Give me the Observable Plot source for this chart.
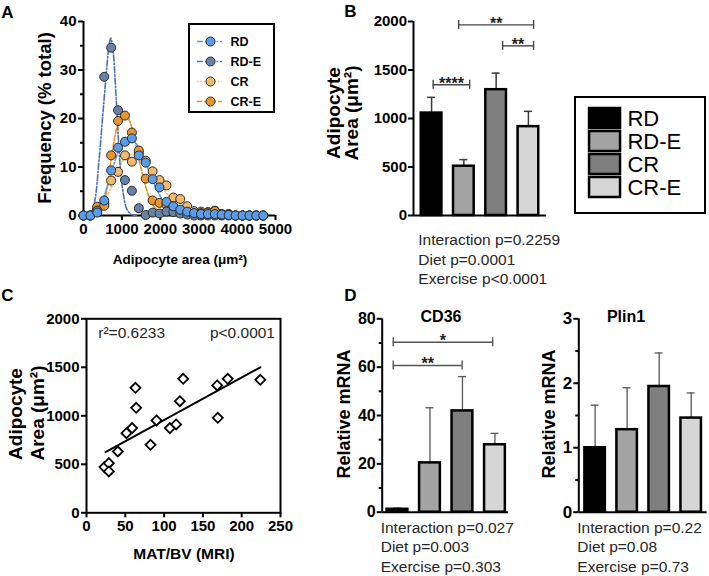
<!DOCTYPE html>
<html>
<head>
<meta charset="utf-8">
<script src="https://cdn.jsdelivr.net/npm/d3@7"></script>
<script src="https://cdn.jsdelivr.net/npm/@observablehq/plot@0.6"></script>
<style>
html,body{margin:0;padding:0;background:#fff;}
#fig{position:relative;width:709px;height:576px;overflow:hidden;background:#fff;font-family:"Liberation Sans",Arial,Helvetica,sans-serif;color:#000;}
.panel{position:absolute;}
.panel svg{display:block;}
</style>
</head>
<body>
<div id="fig"></div>
<script>
// ---------------- DATA ----------------
// Panel A: frequency distribution
const groups = ["RD", "RD-E", "CR", "CR-E"];
const binArea = [0,180,360,540,720,900,1080,1260,1440,1620,1800,1980,2160,2340,2520,2700,2880,3060,3240,3420,3600,3780,3960,4140,4320,4500,4680];
const freqRD  = [0,0,0.6,3.1,9.3,14.0,15.2,15.9,12.4,10.9,7.5,5.8,2.8,1.9,1.2,0.8,0.5,0.3,0.3,0.3,0.2,0.1,0,0,0,0,0];
const freqRDE = [0,0,1.0,28.6,34.6,21.7,7.3,5.1,1.5,0.1,0.6,0.4,0.8,0.7,0.4,0.2,0,0,0,0,0,0,0,0,0,0,0];
const freqCR  = [0,0,1.5,2.4,7.2,9.0,12.4,11.1,13.0,11.3,9.1,7.3,6.2,3.7,3.4,1.9,0.9,0.8,0.7,1.0,0.3,0.3,0,0,0,0,0];
const freqCRE = [0,0,1.8,2.0,12.4,19.5,20.6,17.1,13.4,7.6,3.1,2.6,2.2,1.2,0.8,0.6,0.5,0.5,0.6,0.9,0.2,0.2,0,0,0,0,0];
// fitted curves
const fitRD_x  = [300,450,600,750,900,1050,1200,1350,1500,1650,1800,1950,2100,2250,2400,2600];
const fitRD_y  = [0.3,2,5.5,9.5,13,15.2,15.8,15,13,10.2,7.3,4.7,2.7,1.4,0.6,0.2];
const fitRDE_x = [200,300,400,500,580,650,710,770,830,880,930,980,1050,1130,1250,1400];
const fitRDE_y = [0.2,3.2,11,20.5,28,34,36.6,34,27,20,13,8,3.8,1.3,0.2,0];
const fitCR_x  = [300,500,700,900,1100,1300,1500,1700,1900,2100,2300,2500,2700,2900,3100];
const fitCR_y  = [0.3,2,5.5,9.5,12,12.6,11.8,10,7.6,5.3,3.3,1.9,1,0.4,0.2];
const fitCRE_x = [350,500,600,700,800,900,1000,1100,1200,1300,1400,1500,1600,1700,1800,1950,2100];
const fitCRE_y = [0.3,1.7,5,10.5,15.5,19,20.7,20.8,19.5,16.8,13.2,9.7,6.5,4,2.3,0.9,0.3];
const areaTicks = [0,1000,2000,3000,4000,5000];
const freqTicks = [0,10,20,30,40];
const freqMinor = [5,15,25,35];

// Panel B: adipocyte area bars
const areaMean = [1056, 508, 1297, 916];
const areaSEM  = [162, 68, 171, 158];
const areaBarTicks = [0,500,1000,1500,2000];
const sigB = [
  {x1: 0.05, x2: 1.18, y: 1348, label: "****"},
  {x1: 0.84, x2: 3.16, y: 1965, label: "**"},
  {x1: 2.20, x2: 3.16, y: 1749, label: "**"}
];

// Panel C: scatter
const matbv    = [23.2,28.8,28.8,40.4,51.5,58.8,63.1,64.0,82.5,90.2,107.4,115.5,120.3,124.6,168.4,169.2,182.0,224.0];
const adipArea = [471,512,426,632,821,873,1289,1082,701,952,873,911,1151,1381,1313,979,1381,1371];
const regX = [24.5, 224];
const regY = [625, 1500];
const matTicks = [0,50,100,150,200,250];

// Panel D: mRNA
const cd36Mean = [1.2, 20.4, 41.9, 27.9];
const cd36Err  = [0.5, 22.8, 14.2, 4.7];
const cd36Ticks = [0,20,40,60,80];
const cd36Minor = [10,30,50,70];
const sigCD36 = [
  {x1: -0.13, x2: 2.93, y: 70.3, label: "*"},
  {x1: -0.13, x2: 1.99, y: 60.7, label: "**"}
];
const plinMean = [1.00, 1.28, 1.95, 1.46];
const plinErr  = [0.66, 0.65, 0.52, 0.39];
const plinTicks = [0,1,2,3];
const plinMinor = [0.5,1.5,2.5];

// ---------------- STYLE ----------------
const FONT = '"Liberation Sans", Arial, Helvetica, sans-serif';
const dotColors = ["#5B9CE9", "#6783A8", "#F4BA6C", "#EA962F"];
const fitColors = ["#5E9AE0", "#4A72AE", "#F2BF78", "#E8912A"];
const fitDash   = ["6,2,1.5,2", "6,2,1.5,2", "1.5,2", "5,2"];
const barFills  = ["#000000", "#A3A3A3", "#7F7F7F", "#D6D6D6"];

const fig = document.getElementById("fig");
function mount(node, left, top, extra) {
  const w = document.createElement("div");
  w.className = "panel";
  w.style.left = left + "px";
  w.style.top = top + "px";
  if (extra) Object.assign(w.style, extra);
  w.appendChild(node);
  fig.appendChild(w);
}
function addText(txt, x, y, o = {}) {
  const d = document.createElement("div");
  d.textContent = txt;
  const s = d.style;
  s.position = "absolute"; s.left = x + "px"; s.top = y + "px";
  s.whiteSpace = "nowrap"; s.lineHeight = "1";
  s.fontSize = (o.size || 15) + "px";
  s.fontWeight = o.weight || "normal";
  s.color = o.color || "#000";
  const ax = o.anchor === "start" ? "0" : o.anchor === "end" ? "-100%" : "-50%";
  s.transform = `translate(${ax},-50%)` + (o.rotate ? ` rotate(${o.rotate}deg)` : "");
  fig.appendChild(d);
}
const plotStyle = (size) => ({fontFamily: FONT, fontSize: size + "px", fontWeight: "bold", color: "#000", background: "transparent", overflow: "visible", maxWidth: "none"});
const fmt = d => String(d);

// ---------------- PANEL A ----------------
const freqs = [freqRD, freqRDE, freqCR, freqCRE];
const fitsX = [fitRD_x, fitRDE_x, fitCR_x, fitCRE_x];
const fitsY = [fitRD_y, fitRDE_y, fitCR_y, fitCRE_y];
const orderA = [2, 3, 1, 0];
const ptsOf = vals => binArea.map((x, i) => ({x, y: vals[i]}));
const fitOf = (xs, ys) => xs.map((x, i) => ({x, y: ys[i]}));

const plotA = Plot.plot({
  width: 300, height: 290, marginLeft: 83, marginRight: 25, marginTop: 21, marginBottom: 75,
  x: {domain: [0, 5000], label: null},
  y: {domain: [0, 40], label: null},
  style: plotStyle(15),
  marks: [
    Plot.axisX({ticks: areaTicks, tickSize: 5, tickPadding: 3, strokeWidth: 2, label: null, tickFormat: fmt, fontSize: 15, fontWeight: "bold"}),
    Plot.axisY({ticks: freqTicks, tickSize: 5, tickPadding: 2, strokeWidth: 2, label: null, tickFormat: fmt, fontSize: 15, fontWeight: "bold"}),
    Plot.axisY({ticks: freqMinor, tickSize: 3, strokeWidth: 2, label: null, tickFormat: () => ""}),
    Plot.ruleX([0], {strokeWidth: 2}),
    Plot.ruleY([0], {strokeWidth: 2}),
    ...orderA.map(k => Plot.line(fitOf(fitsX[k], fitsY[k]), {x: "x", y: "y", stroke: fitColors[k], strokeWidth: 1.6, strokeDasharray: fitDash[k], curve: "catmull-rom"})),
    ...orderA.map(k => Plot.dot(ptsOf(freqs[k]), {x: "x", y: "y", r: 4.5, fill: dotColors[k], stroke: "#2a2a2a", strokeWidth: 1}))
  ]
});
mount(plotA, 0, 0);

// Legend A
const legA = Plot.plot({
  width: 83, height: 86, marginLeft: 0, marginRight: 0, marginTop: 15, marginBottom: 10,
  x: {domain: [0, 1], axis: null},
  y: {type: "point", domain: groups, axis: null, padding: 0},
  color: {type: "identity"},
  style: plotStyle(12.5),
  marks: [
    ...groups.map((g, i) => Plot.ruleY([g], {y: d => d, x1: 0.084, x2: 0.386, stroke: fitColors[i], strokeWidth: 1.6, strokeDasharray: fitDash[i]})),
    Plot.dot(groups, {x: 0.241, y: d => d, r: 4.5, fill: d => dotColors[groups.indexOf(d)], stroke: "#2a2a2a", strokeWidth: 1}),
    Plot.text(groups, {x: 0.482, y: d => d, text: d => d, textAnchor: "start", fontSize: 12.5, fontWeight: "bold"})
  ]
});
mount(legA, 188, 23, {border: "2px solid #000", background: "#fff", width: "83px", height: "86px"});

// ---------------- helpers for bar panels ----------------
const errMarks = (rows, color, w) => [
  Plot.ruleX(rows, {x: "i", y1: "v", y2: d => d.v + d.e, stroke: color, strokeWidth: w}),
  Plot.ruleY(rows, {y: d => d.v + d.e, x1: "i", x2: "i", insetLeft: -4, insetRight: -4, stroke: color, strokeWidth: w})
];
const bracketMarks = (rows, color, size) => [
  Plot.ruleY(rows, {y: "y", x1: "x1", x2: "x2", stroke: color, strokeWidth: 1.4}),
  Plot.ruleX(rows, {x: "x1", y1: "y", y2: "y", insetTop: -4.5, insetBottom: -4.5, stroke: color, strokeWidth: 1.4}),
  Plot.ruleX(rows, {x: "x2", y1: "y", y2: "y", insetTop: -4.5, insetBottom: -4.5, stroke: color, strokeWidth: 1.4}),
  Plot.text(rows, {x: d => (d.x1 + d.x2) / 2, y: "y", text: "label", lineAnchor: "bottom", dy: 4, fontSize: size, fontWeight: "bold", fill: "#222"})
];
const barMarks = rows => Plot.rectY(rows, {x1: d => d.i - 0.32, x2: d => d.i + 0.32, y1: 0, y2: "v", fill: "fill", stroke: "#000", strokeWidth: 2.5});
const rowsOf = (means, errs) => means.map((v, i) => ({i, v, e: errs[i], fill: barFills[i]}));

// ---------------- PANEL B ----------------
const xDomB = [-0.56, 3.56];
const plotB = Plot.plot({
  width: 195, height: 225, marginLeft: 53, marginRight: 9, marginTop: 21, marginBottom: 10,
  x: {domain: xDomB, axis: null},
  y: {domain: [0, 2000], label: null},
  color: {type: "identity"},
  style: plotStyle(15),
  marks: [
    Plot.axisY({ticks: areaBarTicks, tickSize: 5, tickPadding: 1.5, strokeWidth: 2, label: null, tickFormat: fmt, fontSize: 15, fontWeight: "bold"}),
    ...errMarks(rowsOf(areaMean, areaSEM), "#3a3a3a", 1.5),
    barMarks(rowsOf(areaMean, areaSEM)),
    Plot.ruleX([xDomB[0]], {strokeWidth: 2}),
    Plot.ruleY([0], {strokeWidth: 2}),
    ...bracketMarks(sigB, "#444", 16)
  ]
});
mount(plotB, 360, 0);

// Legend B
const legB = Plot.plot({
  width: 128, height: 114, marginLeft: 0, marginRight: 0, marginTop: 8.5, marginBottom: 13.5,
  x: {domain: [0, 1], axis: null},
  y: {type: "band", domain: groups, axis: null, paddingInner: 0.12, paddingOuter: 0},
  color: {type: "identity"},
  style: plotStyle(22),
  marks: [
    Plot.barX(groups, {y: d => d, x1: 0.102, x2: 0.344, fill: d => barFills[groups.indexOf(d)], stroke: "#000", strokeWidth: 2.5}),
    Plot.text(groups, {y: d => d, x: 0.398, text: d => d, textAnchor: "start", fontSize: 22, fontWeight: "normal"})
  ]
});
mount(legB, 574, 96, {border: "2px solid #000", background: "#fff", width: "128px", height: "114px"});

// ---------------- PANEL C ----------------
const cPts = matbv.map((x, i) => ({x, y: adipArea[i]}));
const regPts = regX.map((x, i) => ({x, y: regY[i]}));
const plotC = Plot.plot({
  width: 300, height: 276, marginLeft: 86, marginRight: 20, marginTop: 18.3, marginBottom: 63.7,
  x: {domain: [0, 250], label: null},
  y: {domain: [0, 2000], label: null},
  style: plotStyle(15),
  marks: [
    Plot.axisX({ticks: matTicks, tickSize: 5, tickPadding: 3, strokeWidth: 2, label: null, tickFormat: fmt, fontSize: 15, fontWeight: "bold"}),
    Plot.axisY({ticks: areaBarTicks, tickSize: 5, tickPadding: 2, strokeWidth: 2, label: null, tickFormat: fmt, fontSize: 15, fontWeight: "bold"}),
    Plot.frame({strokeWidth: 2}),
    Plot.line(regPts, {x: "x", y: "y", stroke: "#000", strokeWidth: 2}),
    Plot.dot(cPts, {x: "x", y: "y", symbol: "diamond2", r: 4.5, stroke: "#000", strokeWidth: 1.8, fill: "#fff"})
  ]
});
mount(plotC, 0, 300);

// ---------------- PANEL D: CD36 ----------------
const xDomCD = [-0.47, 3.42];
const plotCD = Plot.plot({
  width: 158, height: 215, marginLeft: 26.7, marginRight: 4.9, marginTop: 18.3, marginBottom: 3.3,
  x: {domain: xDomCD, axis: null},
  y: {domain: [0, 80], label: null},
  color: {type: "identity"},
  style: plotStyle(16),
  marks: [
    Plot.axisY({ticks: cd36Ticks, tickSize: 5, tickPadding: 1.5, strokeWidth: 2, label: null, tickFormat: fmt, fontSize: 16, fontWeight: "bold"}),
    Plot.axisY({ticks: cd36Minor, tickSize: 3, strokeWidth: 2, label: null, tickFormat: () => ""}),
    ...errMarks(rowsOf(cd36Mean, cd36Err), "#555", 1.3),
    barMarks(rowsOf(cd36Mean, cd36Err)),
    Plot.ruleX([xDomCD[0]], {strokeWidth: 2}),
    Plot.ruleY([0], {strokeWidth: 2}),
    ...bracketMarks(sigCD36, "#555", 16)
  ]
});
mount(plotCD, 355, 300);

// ---------------- PANEL D: Plin1 ----------------
const xDomPL = [-0.51, 3.5];
const plotPL = Plot.plot({
  width: 154, height: 215, marginLeft: 23.3, marginRight: 2.3, marginTop: 18.3, marginBottom: 3.3,
  x: {domain: xDomPL, axis: null},
  y: {domain: [0, 3], label: null},
  color: {type: "identity"},
  style: plotStyle(16),
  marks: [
    Plot.axisY({ticks: plinTicks, tickSize: 5, tickPadding: 1.5, strokeWidth: 2, label: null, tickFormat: fmt, fontSize: 17, fontWeight: "bold"}),
    Plot.axisY({ticks: plinMinor, tickSize: 3, strokeWidth: 2, label: null, tickFormat: () => ""}),
    ...errMarks(rowsOf(plinMean, plinErr), "#555", 1.3),
    barMarks(rowsOf(plinMean, plinErr)),
    Plot.ruleX([xDomPL[0]], {strokeWidth: 2}),
    Plot.ruleY([0], {strokeWidth: 2})
  ]
});
mount(plotPL, 555, 300);

// ---------------- TEXT LABELS ----------------
addText("A", 7.5, 12.3, {size: 17, weight: "bold"});
addText("B", 350.5, 11, {size: 17, weight: "bold"});
addText("C", 7.5, 295, {size: 17, weight: "bold"});
addText("D", 350.5, 295, {size: 17, weight: "bold"});

addText("Frequency (% total)", 45, 117.5, {size: 18.5, weight: "bold", rotate: -90});
addText("Adipocyte area (μm²)", 180, 260, {size: 13.5, weight: "bold"});

addText("Adipocyte", 332.5, 112.5, {size: 19, weight: "bold", rotate: -90});
addText("Area (μm²)", 350.8, 113, {size: 19, weight: "bold", rotate: -90});
addText("Interaction p=0.2259", 418.3, 240, {anchor: "start", size: 15.5, color: "#262626"});
addText("Diet p=0.0001", 418.3, 260, {anchor: "start", size: 15.5, color: "#262626"});
addText("Exercise p<0.0001", 418.3, 279.3, {anchor: "start", size: 15.5, color: "#262626"});

addText("Adipocyte", 15, 414, {size: 19, weight: "bold", rotate: -90});
addText("Area (μm²)", 36.5, 413, {size: 19, weight: "bold", rotate: -90});
addText("MAT/BV (MRI)", 184, 554, {size: 15.5, weight: "bold"});
addText("r²=0.6233", 98.3, 333.3, {anchor: "start", size: 15.5, color: "#262626"});
addText("p<0.0001", 275, 333.3, {anchor: "end", size: 15.5, color: "#262626"});

addText("Relative mRNA", 343.5, 414, {size: 18, weight: "bold", rotate: -90});
addText("CD36", 441, 316.5, {size: 16, weight: "bold"});
addText("Interaction p=0.027", 380.7, 528.3, {anchor: "start", size: 15.5, color: "#262626"});
addText("Diet p=0.003", 380.7, 547.3, {anchor: "start", size: 15.5, color: "#262626"});
addText("Exercise p=0.303", 380.7, 566.7, {anchor: "start", size: 15.5, color: "#262626"});

addText("Relative mRNA", 549, 413.5, {size: 18, weight: "bold", rotate: -90});
addText("Plin1", 626, 317, {size: 16, weight: "bold"});
addText("Interaction p=0.22", 577.3, 528.3, {anchor: "start", size: 15.5, color: "#262626"});
addText("Diet p=0.08", 577.3, 547.3, {anchor: "start", size: 15.5, color: "#262626"});
addText("Exercise p=0.73", 577.3, 566.7, {anchor: "start", size: 15.5, color: "#262626"});
</script>
</body>
</html>
